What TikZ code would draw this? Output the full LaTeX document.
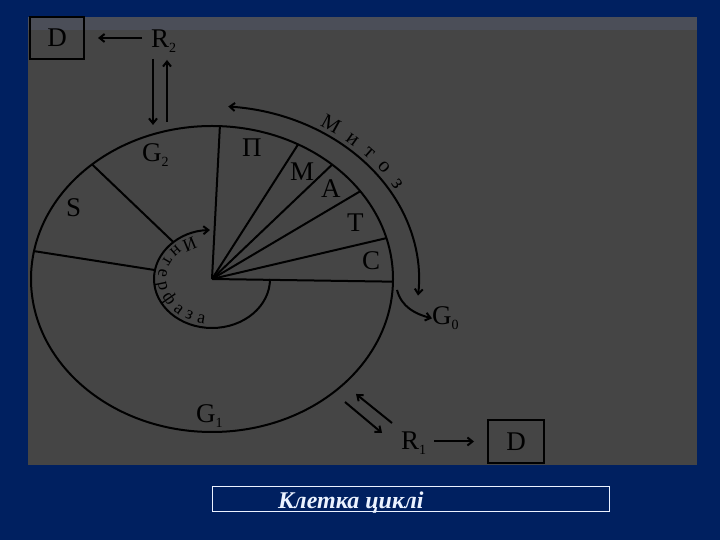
\documentclass[tikz,border=0pt]{standalone}
\usepackage{fontspec}
\setmainfont{Liberation Serif}
\usetikzlibrary{arrows.meta,decorations.text,calc}
\definecolor{navy}{RGB}{0,32,96}
\definecolor{panel}{RGB}{69,69,69}
\definecolor{panelband}{RGB}{75,78,88}
\definecolor{captext}{RGB}{235,242,255}
\newcommand\lsub[1]{\raisebox{-4.5pt}{\fontsize{14}{14}\selectfont #1}}
\begin{document}
\begin{tikzpicture}[x=1pt,y=1pt,
  ln/.style={line width=2pt, black},
  arr/.style={ln, -{Straight Barb[length=5pt,width=8pt]}},
  lbl/.style={inner sep=0pt, font=\fontsize{27}{27}\selectfont, text=black},
  boxd/.style={lbl, draw, line width=2pt},
  ]
\fill[navy] (0,0) rectangle (720,540);
\useasboundingbox (0,0) rectangle (720,540);
\fill[panel] (28,75) rectangle (697,523);
\fill[panelband] (28,510) rectangle (697,523);
% main ellipse
\coordinate (c) at (212,261);
\draw[ln] (c) ellipse [x radius=181pt, y radius=153pt];
% rays from centre (mitosis sectors)
\foreach \t in {87.5,61.6,48.4,35,15.5,-1}
  \draw[ln] (c) -- ++(\t:181pt and 153pt);
% S boundaries from inner arc to outer ellipse
\path (c) ++(131.5:58pt and 49pt) coordinate (sg2i)
      (c) ++(131.5:181pt and 153pt) coordinate (sg2o)
      (c) ++(169.5:58pt and 49pt) coordinate (sg1i)
      (c) ++(169.5:181pt and 153pt) coordinate (sg1o);
\draw[ln] (sg2i) -- (sg2o);
\draw[ln] (sg1i) -- (sg1o);
% interphase arc
\draw[arr] (c) ++(0:58pt and 49pt) arc[start angle=0, end angle=-268, x radius=58pt, y radius=49pt];
\path[decorate, decoration={text along path, text={|\fontsize{18}{18}\selectfont|Интерфаза}, text align=fit to path}]
  (c) ++(110:54pt and 45pt) arc[start angle=110, end angle=262, x radius=54pt, y radius=45pt];
% mitosis arc
\draw[ln, {Straight Barb[length=5pt,width=8pt]}-{Straight Barb[length=5pt,width=8pt]}]
  (c) ++(85.5:207pt and 173pt) arc[start angle=85.5, end angle=-5.5, x radius=207pt, y radius=173pt];
\path[decorate, decoration={text along path, text={|\fontsize{21}{21}\selectfont|Митоз}, text align=fit to path, raise=2pt}]
  (c) ++(59.5:210pt and 176pt) arc[start angle=59.5, end angle=30, x radius=210pt, y radius=176pt];
% labels
\node[lbl, anchor=base west] (g2) at (142,378) {G\lsub{2}};
\node[lbl, anchor=base west] (pp) at (242,383) {П};
\node[lbl, anchor=base west] (mm) at (290,359) {М};
\node[lbl, anchor=base west] (aa) at (321,342) {А};
\node[lbl, anchor=base west] (tt) at (347,308) {Т};
\node[lbl, anchor=base west] (cc) at (362,270) {С};
\node[lbl, anchor=base west] (ss) at (66,323) {S};
\node[lbl, anchor=base west] (g1) at (196,117) {G\lsub{1}};
\node[lbl, anchor=base west] (g0) at (432,215) {G\lsub{0}};
% top: R2 and D
\node[boxd, minimum width=54pt, minimum height=42pt] (d2) at (57,502) {D};
\node[lbl, anchor=base west] (r2) at (151,492) {R\lsub{2}};
\draw[arr, shorten <=9pt, shorten >=13pt] (d2.east -| r2.west) -- (d2.east);
\coordinate (r2b1) at (153,481);
\coordinate (g2t1) at (153,415);
\coordinate (g2t2) at (167,418);
\coordinate (r2b2) at (167,480);
\draw[arr] (r2b1) -- (g2t1);
\draw[arr] (g2t2) -- (r2b2);
% G0 arrow
\coordinate (g0s) at (397,250);
\draw[arr] (g0s) to[out=-75, in=165] (g0.west);
% bottom: R1 and D
\node[lbl, anchor=base west] (r1) at (401,90) {R\lsub{1}};
\node[boxd, minimum width=56pt, minimum height=43pt] (d1) at (516,98.5) {D};
\draw[arr, shorten <=8pt, shorten >=13pt] (d1.west -| r1.east) -- (d1.west);
\coordinate (g1a) at (392,117);
\coordinate (g1b) at (356,146);
\coordinate (g1c) at (345,138);
\coordinate (g1d) at (382,107);
\draw[arr] (g1a) -- (g1b);
\draw[arr] (g1c) -- (g1d);
% caption
\node[draw=captext, line width=0.8pt, minimum width=397pt, minimum height=25pt, inner sep=0pt] (capbox) at (410.5,41.5) {};
\node[anchor=base west, inner sep=0pt, text=captext, font=\fontsize{24}{24}\selectfont\bfseries\itshape] (cap) at (278,31) {Клетка циклі};
\end{tikzpicture}
\end{document}
